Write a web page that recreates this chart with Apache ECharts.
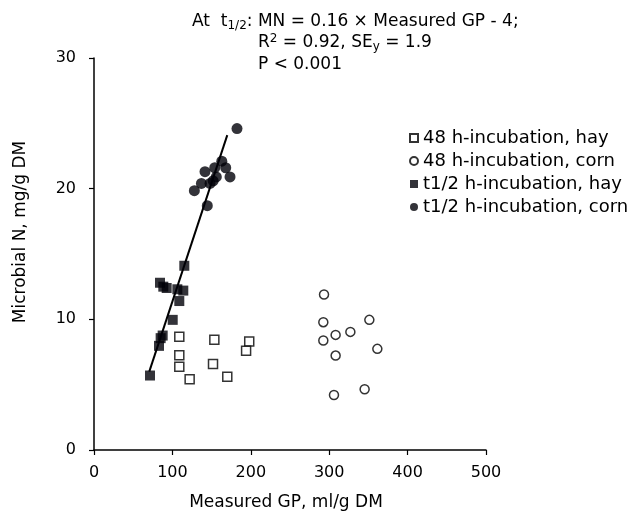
<!DOCTYPE html>
<html>
<head>
<meta charset="utf-8">
<script src="https://cdn.jsdelivr.net/npm/echarts@6/dist/echarts.min.js"></script>
<style>html,body{margin:0;padding:0;background:#fff}#c{width:640px;height:513px}</style>
</head>
<body>
<div id="c"></div>
<script>
var hay48 = [[108.8,8.66],[153.5,8.43],[108.8,7.26],[108.8,6.38],[151.8,6.59],[122,5.42],[198,8.3],[194,7.6],[170,5.6]];
var corn48 = [[293.4,11.9],[292.5,9.78],[351.2,9.96],[327,9.04],[308.2,8.81],[292.5,8.38],[361.4,7.74],[308.2,7.23],[345.2,4.65],[306.1,4.21]];
var hayHalf = [[115.2,14.1],[84.2,12.8],[88.4,12.5],[92.7,12.4],[106.3,12.3],[113.9,12.2],[108.8,11.4],[100.4,9.96],[87.6,8.76],[85,8.56],[82.9,7.97],[71.4,5.7]];
var cornHalf = [[128,19.85],[137,20.4],[141.6,21.3],[144.5,18.7],[148,20.4],[152,20.6],[154,21.6],[156,20.9],[163,22.1],[168,21.6],[173.5,20.9],[182.4,24.6]];
var fitLine = [[70.5,6.0],[170,24.1]];
var xTicks = [0,100,200,300,400,500];
var yTicks = [0,10,20,30];
var legendNames = ['48 h-incubation, hay','48 h-incubation, corn','t1/2 h-incubation, hay','t1/2 h-incubation, corn'];
var xTitle = 'Measured GP, ml/g DM';
var yTitle = 'Microbial N, mg/g DM';

var chart = echarts.init(document.getElementById('c'));
var font = 'DejaVu Sans, Liberation Sans, sans-serif';
chart.setOption({
  animation: false,
  grid: {left: 94, right: 154, top: 58, bottom: 63, containLabel: false, outerBoundsMode: 'none'},
  xAxis: {
    type: 'value', min: xTicks[0], max: xTicks[xTicks.length-1], interval: 100,
    name: xTitle, nameLocation: 'middle', nameGap: 44,
    nameTextStyle: {fontSize: 17, color: '#000', fontFamily: font, padding: [0,8,0,0]},
    axisLine: {lineStyle: {color: '#000', width: 1.5}},
    axisTick: {show: true, length: 5, lineStyle: {color: '#000', width: 1.2}},
    axisLabel: {fontSize: 16, color: '#000', fontFamily: font, margin: 15},
    splitLine: {show: false}
  },
  yAxis: {
    type: 'value', min: yTicks[0], max: yTicks[yTicks.length-1], interval: 10,
    axisLine: {show: true, lineStyle: {color: '#000', width: 1.5}},
    axisTick: {show: true, length: 5, lineStyle: {color: '#000', width: 1.2}},
    axisLabel: {fontSize: 16, color: '#000', fontFamily: font, margin: 18},
    splitLine: {show: false}
  },
  legend: {
    orient: 'vertical', left: 409, top: 129, padding: 0, itemGap: 5, itemWidth: 8, itemHeight: 8,
    textStyle: {fontSize: 18, color: '#000', fontFamily: font},
    data: legendNames.map(function(n){return {name:n};})
  },
  series: [
    {name: legendNames[0], type: 'scatter', data: hay48, symbol: 'rect', symbolSize: 9,
     itemStyle: {color: '#fff', borderColor: '#000', borderWidth: 1.5}},
    {name: legendNames[1], type: 'scatter', data: corn48, symbol: 'circle', symbolSize: 9,
     itemStyle: {color: '#fff', borderColor: '#000', borderWidth: 1.5}},
    {name: 'fit', type: 'line', data: fitLine, showSymbol: false, symbol: 'none',
     lineStyle: {color: '#000', width: 2}, z: 1},
    {name: legendNames[2], type: 'scatter', data: hayHalf, symbol: 'rect', symbolSize: 10,
     itemStyle: {color: '#000008'}, z: 3},
    {name: legendNames[3], type: 'scatter', data: cornHalf, symbol: 'circle', symbolSize: 11,
     itemStyle: {color: '#000008'}, z: 3}
  ],
  graphic: [
    {type: 'text', x: 21, y: 232, rotation: Math.PI / 2, style: {
      text: yTitle, fontSize: 17, fill: '#000', fontFamily: font,
      align: 'center', verticalAlign: 'middle', textAlign: 'center', textVerticalAlign: 'middle'
    }},
    {type: 'text', left: 192, top: 13, style: {
      text: 'At  t{sub|1/2}: MN = 0.16 × Measured GP - 4;',
      fontSize: 17, fill: '#000', fontFamily: font,
      rich: {sub: {fontSize: 12, verticalAlign: 'bottom', padding: [8,0,0,0], fontFamily: font}}
    }},
    {type: 'text', left: 258, top: 33, style: {
      text: 'R{sup|2} = 0.92, SE{sub|y} = 1.9',
      fontSize: 17, fill: '#000', fontFamily: font,
      rich: {sup: {fontSize: 12, verticalAlign: 'top', padding: [0,0,8,0], fontFamily: font},
             sub: {fontSize: 12, verticalAlign: 'bottom', padding: [8,0,0,0], fontFamily: font}}
    }},
    {type: 'text', left: 258, top: 56, style: {
      text: 'P < 0.001', fontSize: 17, fill: '#000', fontFamily: font
    }}
  ]
});
</script>
</body>
</html>
